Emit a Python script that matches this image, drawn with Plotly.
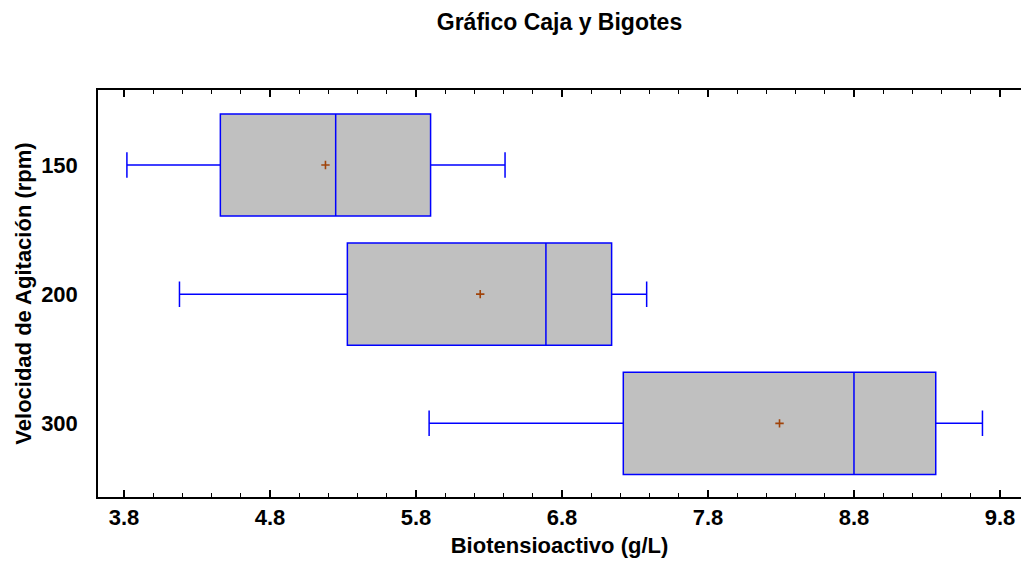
import plotly.graph_objects as go

# Agitation speed groups (rpm) and the five-number summary of each
speeds = ["150", "200", "300"]
lower_whisker = [3.82, 4.18, 5.89]
q1 = [4.46, 5.33, 7.22]
median = [5.25, 6.69, 8.80]
q3 = [5.90, 7.14, 9.36]
upper_whisker = [6.41, 7.38, 9.68]
mean = [5.18, 6.24, 8.29]

FONT = "Liberation Sans, Arial, sans-serif"

fig = go.Figure()

fig.add_trace(go.Box(
    y=speeds,
    q1=q1,
    median=median,
    q3=q3,
    lowerfence=lower_whisker,
    upperfence=upper_whisker,
    orientation="h",
    boxpoints=False,
    width=0.79,
    whiskerwidth=0.25,
    fillcolor="#C0C0C0",
    line=dict(color="#0000FF", width=1.5),
    hoverinfo="skip",
    showlegend=False,
))

# mean of each group as a small cross
fig.add_trace(go.Scatter(
    x=mean,
    y=speeds,
    mode="markers",
    marker=dict(symbol="cross-thin", size=6, line=dict(color="#A0430A", width=1.6)),
    showlegend=False,
    hoverinfo="skip",
))

fig.update_layout(
    width=1021,
    height=561,
    margin=dict(l=98, r=0, t=90, b=64),
    paper_bgcolor="white",
    plot_bgcolor="white",
    title=dict(
        text="<b>Gráfico Caja y Bigotes</b>",
        x=0.5,
        xref="paper",
        y=1 - 22 / 561,
        yref="container",
        yanchor="middle",
        font=dict(family=FONT, size=23, color="black"),
    ),
    font=dict(family=FONT, color="black"),
)

fig.update_xaxes(
    range=[3.622, 9.944],
    tick0=3.8,
    dtick=1,
    tickformat=".1f",
    ticks="inside",
    ticklen=7,
    tickwidth=1.5,
    tickcolor="black",
    minor=dict(dtick=0.2, tick0=3.8, ticks="inside", ticklen=4, tickwidth=1.2, tickcolor="black"),
    showline=True,
    linecolor="black",
    linewidth=1.5,
    mirror="ticks",
    showgrid=False,
    zeroline=False,
    tickfont=dict(family=FONT, size=22, color="black"),
    title=dict(text="<b>Biotensioactivo (g/L)</b>", font=dict(family=FONT, size=22, color="black"), standoff=8),
    tickprefix="<b>",
    ticksuffix="</b>",
)

fig.update_yaxes(
    type="category",
    categoryorder="array",
    categoryarray=speeds,
    range=[2.57, -0.58],
    showline=True,
    linecolor="black",
    linewidth=1.5,
    ticks="",
    showgrid=False,
    zeroline=False,
    ticklabelstandoff=14,
    tickfont=dict(family=FONT, size=22, color="black"),
    tickprefix="<b>",
    ticksuffix="</b>",
    title=dict(text="<b>Velocidad de Agitación (rpm)</b>", font=dict(family=FONT, size=22, color="black"), standoff=3),
)

fig.write_html("out.html")
